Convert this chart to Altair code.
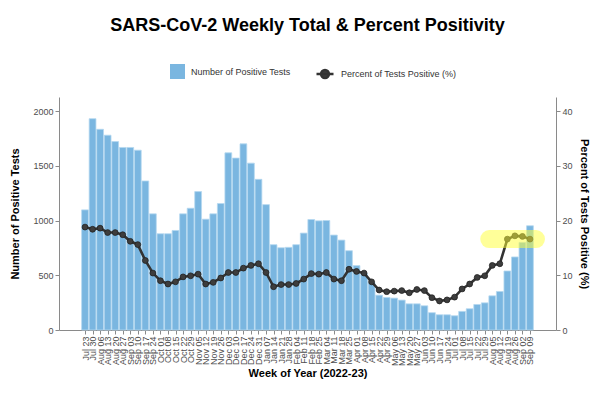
import altair as alt
import pandas as pd

weeks = ["Jul 23", "Jul 30", "Aug 06", "Aug 13", "Aug 20", "Aug 27", "Sep 03", "Sep 10",
         "Sep 17", "Sep 24", "Oct 01", "Oct 08", "Oct 15", "Oct 22", "Oct 29", "Nov 05",
         "Nov 12", "Nov 19", "Nov 26", "Dec 03", "Dec 10", "Dec 17", "Dec 24", "Dec 31",
         "Jan 07", "Jan 14", "Jan 21", "Jan 28", "Feb 04", "Feb 11", "Feb 18", "Feb 25",
         "Mar 04", "Mar 11", "Mar 18", "Mar 25", "Apr 01", "Apr 08", "Apr 15", "Apr 22",
         "Apr 29", "May 06", "May 13", "May 20", "May 27", "Jun 03", "Jun 10", "Jun 17",
         "Jun 24", "Jul 01", "Jul 08", "Jul 15", "Jul 22", "Jul 29", "Aug 05", "Aug 12",
         "Aug 19", "Aug 26", "Sep 02", "Sep 09"]

positive_tests = [1097, 1930, 1833, 1779, 1721, 1667, 1667, 1642, 1361, 1061,
                  879, 879, 909, 1061, 1112, 1264, 1012, 1061, 1155, 1618,
                  1570, 1700, 1524, 1376, 1145, 779, 751, 755, 779, 885,
                  1009, 997, 1000, 867, 821, 724, 588, 515, 433, 318,
                  297, 291, 273, 239, 239, 221, 158, 139, 139, 130,
                  170, 194, 233, 248, 312, 352, 539, 667, 800, 952]

percent_positive = [18.8, 18.4, 18.6, 17.8, 17.8, 17.4, 16.2, 15.6, 12.7, 10.4,
                    9.0, 8.4, 8.8, 9.7, 9.9, 10.2, 8.4, 8.7, 9.5, 10.5,
                    10.5, 11.3, 11.8, 12.1, 10.5, 7.9, 8.3, 8.3, 8.5, 9.3,
                    10.3, 10.2, 10.5, 9.3, 9.0, 11.1, 10.7, 10.4, 8.8, 7.3,
                    7.0, 7.1, 7.2, 6.8, 7.4, 7.2, 5.9, 5.3, 5.5, 6.0,
                    7.5, 8.4, 9.6, 9.9, 11.8, 12.1, 16.6, 17.2, 17.1, 16.6]

bar_series = "Number of Positive Tests"
line_series = "Percent of Tests Positive (%)"
highlight_weeks = ["Aug 05", "Sep 09"]
highlight_level = 16.6

df = pd.DataFrame({
    "idx": list(range(len(weeks))),
    "week": weeks,
    "count": positive_tests,
    "pct": percent_positive,
})
df["series_bar"] = bar_series
df["series_line"] = line_series

hl = pd.DataFrame({
    "start": [weeks.index(highlight_weeks[0])],
    "end": [weeks.index(highlight_weeks[1])],
    "pct": [highlight_level],
})

FONT = "Liberation Sans"
n = len(weeks)
x_scale = alt.Scale(domain=[-3.45, n - 1 + 3.45], nice=False, zero=False)
label_expr = "[" + ",".join("'%s'" % w for w in weeks) + "][datum.value]"
x_axis = alt.Axis(values=list(range(n)), labelExpr=label_expr, labelAngle=270,
                  labelFontSize=9, labelOverlap=False, labelBound=False,
                  labelAlign="right", labelBaseline="middle",
                  title="Week of Year (2022-23)", titlePadding=2)

count_scale = alt.Scale(domain=[0, 2128], nice=False)
pct_scale = alt.Scale(domain=[0, 42.56], nice=False)

bars = alt.Chart(df).transform_calculate(
    x0="datum.idx - 0.45", x1="datum.idx + 0.45"
).mark_bar(stroke="#b5d8f0", strokeWidth=0.8).encode(
    x=alt.X("x0:Q", scale=x_scale, axis=x_axis),
    x2="x1:Q",
    y=alt.Y("count:Q", scale=count_scale,
            axis=alt.Axis(orient="left", values=[0, 500, 1000, 1500, 2000], format="d",
                          title="Number of Positive Tests", titlePadding=12)),
    y2=alt.datum(0),
    color=alt.Color("series_bar:N",
                    scale=alt.Scale(domain=[bar_series], range=["#7ab6e0"]),
                    legend=alt.Legend(orient="none", legendX=111, legendY=-33,
                                      title=None, symbolType="square", symbolSize=225,
                                      symbolStrokeWidth=0, labelFontSize=9,
                                      labelOffset=6, padding=0, labelColor="#333333")),
)

line = alt.Chart(df).mark_line(strokeWidth=2.6).encode(
    x=alt.X("idx:Q", scale=x_scale, axis=x_axis),
    y=alt.Y("pct:Q", scale=pct_scale,
            axis=alt.Axis(orient="right", values=[0, 10, 20, 30, 40], format="d",
                          title=line_series, titlePadding=6)),
    stroke=alt.Stroke("series_line:N",
                      scale=alt.Scale(domain=[line_series], range=["#333333"]),
                      legend=alt.Legend(orient="none", legendX=256, legendY=-33,
                                        title=None,
                                        symbolType="M-1,0L1,0M-0.47,0A0.47,0.47 0 1,0 0.47,0A0.47,0.47 0 1,0 -0.47,0Z",
                                        symbolSize=289, symbolStrokeWidth=2.4,
                                        symbolFillColor="#3d3d3d",
                                        labelFontSize=9, labelOffset=6, padding=0,
                                        labelColor="#333333")),
)

points = alt.Chart(df).mark_circle(size=34, color="#3d3d3d", opacity=1,
                                   stroke="#222222", strokeWidth=0.8).encode(
    x=alt.X("idx:Q", scale=x_scale, axis=x_axis),
    y=alt.Y("pct:Q", scale=pct_scale, axis=None),
)

highlight = alt.Chart(hl).mark_rule(strokeWidth=18, strokeCap="round",
                                    color="#ffff33", opacity=0.5,
                                    xOffset=-3, x2Offset=6).encode(
    x=alt.X("start:Q", scale=x_scale, axis=x_axis),
    x2="end:Q",
    y=alt.Y("pct:Q", scale=pct_scale, axis=None),
)

chart = alt.layer(bars, line, points, highlight).resolve_scale(
    y="independent", color="independent"
).properties(
    width=497, height=233,
    padding={"left": 51, "top": 89, "right": 36, "bottom": 56},
    autosize=alt.AutoSizeParams(type="none"),
    title=alt.TitleParams("SARS-CoV-2 Weekly Total & Percent Positivity",
                          font=FONT, fontSize=18, fontWeight="bold",
                          color="black", anchor="middle", offset=29),
).configure(
    font=FONT, background="white"
).configure_view(
    stroke=None
).configure_axis(
    grid=False, domainColor="#8a8a8a", tickColor="#8a8a8a", tickSize=4,
    labelColor="#4d4d4d", labelFontSize=9, labelFont=FONT,
    titleFont=FONT, titleFontSize=11, titleFontWeight="bold", titleColor="black",
    labelPadding=2,
).configure_legend(
    labelFont=FONT
)

chart.save("out.html", embed_options={"renderer": "svg", "actions": False})
